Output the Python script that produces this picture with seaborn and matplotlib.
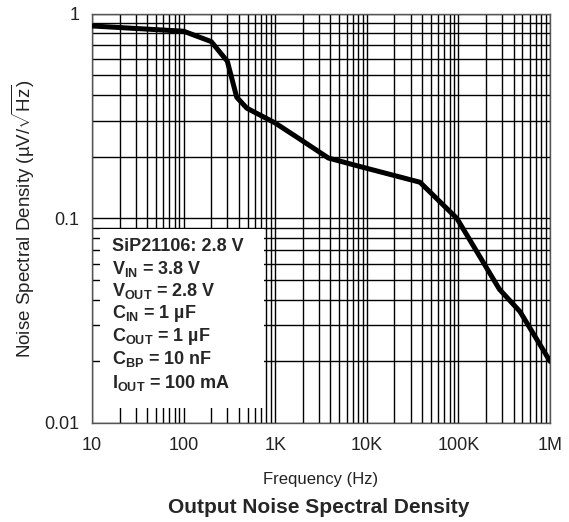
import seaborn as sns
import matplotlib.pyplot as plt
import pandas as pd
from matplotlib.patches import Rectangle
from matplotlib.ticker import FixedLocator, FixedFormatter, LogLocator, NullFormatter

# curve
freq_hz = [10, 100, 200, 300, 380, 490, 1000, 1900, 3800, 8400,
           38000, 96000, 280000, 470000, 1000000]
noise_uv = [0.87, 0.82, 0.73, 0.585, 0.39, 0.345, 0.292, 0.242, 0.197, 0.179,
            0.15, 0.10, 0.045, 0.035, 0.02]

x_ticks = [10, 100, 1e3, 1e4, 1e5, 1e6]
x_labels = ['10', '100', '1K', '10K', '100K', '1M']
y_ticks = [0.01, 0.1, 1]
y_labels = ['0.01', '0.1', '1']

cond_lines = [r'SiP21106: 2.8 V',
              r'V$_{\mathbf{IN}}$ = 3.8 V',
              r'V$_{\mathbf{OUT}}$ = 2.8 V',
              r'C$_{\mathbf{IN}}$ = 1 µF',
              r'C$_{\mathbf{OUT}}$ = 1 µF',
              r'C$_{\mathbf{BP}}$ = 10 nF',
              r'I$_{\mathbf{OUT}}$ = 100 mA']

sns.set_style('white')
plt.rcParams['font.family'] = ['Liberation Sans', 'DejaVu Sans']
plt.rcParams['mathtext.fontset'] = 'custom'
plt.rcParams['mathtext.rm'] = 'Liberation Sans'
plt.rcParams['mathtext.bf'] = 'Liberation Sans:bold'
plt.rcParams['mathtext.it'] = 'Liberation Sans:italic'

df = pd.DataFrame({'freq': freq_hz, 'noise': noise_uv})

fig = plt.figure(figsize=(5.69, 5.22), dpi=100)
ax = fig.add_axes([0.1617, 0.1897, 0.805, 0.7843])

sns.lineplot(data=df, x='freq', y='noise', ax=ax, color='black', linewidth=3.6, zorder=5)

ax.set_xscale('log')
ax.set_yscale('log')
ax.set_xlim(10, 1e6)
ax.set_ylim(0.01, 1)

ax.xaxis.set_major_locator(FixedLocator(x_ticks))
ax.xaxis.set_major_formatter(FixedFormatter(x_labels))
ax.yaxis.set_major_locator(FixedLocator(y_ticks))
ax.yaxis.set_major_formatter(FixedFormatter(y_labels))
ax.xaxis.set_minor_locator(LogLocator(base=10, subs=range(2, 10), numticks=20))
ax.yaxis.set_minor_locator(LogLocator(base=10, subs=range(2, 10), numticks=20))
ax.xaxis.set_minor_formatter(NullFormatter())
ax.yaxis.set_minor_formatter(NullFormatter())

ax.grid(True, which='both', color='black', linewidth=1.0)
ax.tick_params(which='both', length=0, labelsize=13, colors='#222222')
ax.tick_params(axis='x', pad=10)
ax.tick_params(axis='y', pad=9)
for s in ax.spines.values():
    s.set_color('#555555')
    s.set_linewidth(1.0)

ax.set_xlabel('Frequency (Hz)', fontsize=12, color='#222222', labelpad=13)
ax.set_ylabel(r'Noise Spectral Density (µV/$\sqrt{\mathrm{Hz}}$)', fontsize=13.5,
              color='#222222', labelpad=5)

# white condition box over the grid
ax.add_patch(Rectangle((0.017, 0.037), 0.359, 0.437, transform=ax.transAxes,
                       facecolor='white', edgecolor='none', zorder=3))
y_pos = [0.419, 0.364, 0.311, 0.257, 0.201, 0.144, 0.086]
for txt, yy in zip(cond_lines, y_pos):
    ax.text(0.043, yy, txt, transform=ax.transAxes, fontsize=13,
            fontweight='bold', va='baseline', ha='left', zorder=4)

fig.text(0.56, 0.027, 'Output Noise Spectral Density', ha='center', va='center',
         fontsize=15, fontweight='bold')

fig.savefig('out.png', dpi=100)
